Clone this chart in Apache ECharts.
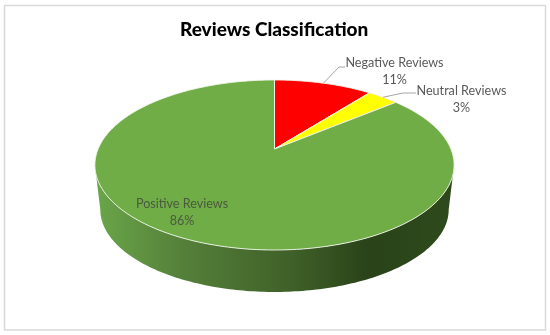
<!DOCTYPE html>
<html>
<head>
<meta charset="utf-8">
<style>html,body{margin:0;padding:0;background:#fff}#c{width:550px;height:335px}</style>
<script src="https://cdn.jsdelivr.net/npm/echarts@6/dist/echarts.min.js"></script>
</head>
<body>
<div id="c"></div>
<script>
const categories = ['Negative Reviews', 'Neutral Reviews', 'Positive Reviews'];
const reviewShare = [10.6, 3.4, 86];
const sliceColors = ['#ff0000', '#ffff00', '#70ad47'];

// Layout: projection of the disc, and label placement
const apexX = 274.5, apexY = 149, K = -0.188, A = 82, B = 176.4, DEPTH = 45, BOTTOM_SCALE = 0.97;
const labelPlaces = [
  { x: 394.5, y: 71.5, color: '#595959', knee: [339, 67], end: [345, 67] },
  { x: 461.5, y: 99, color: '#595959', knee: [403, 93], end: [416, 93] },
  { x: 182, y: 212, color: '#4a5a3e' }
];

const total = reviewShare.reduce((a, b) => a + b, 0);
const starts = [];
reviewShare.reduce((acc, v, i) => { starts[i] = acc; return acc + v; }, 0);

function project(theta, scale, dy) {
  // theta measured clockwise from the top of the disc
  const u = Math.sin(theta), v = -Math.cos(theta);
  const d = 1 + K * v;
  return [apexX + scale * B * u / d, apexY + dy + scale * A * v / d];
}
function arc(t0, t1, scale, dy) {
  const n = Math.max(2, Math.ceil(Math.abs(t1 - t0) * 60));
  const pts = [];
  for (let i = 0; i <= n; i++) pts.push(project(t0 + (t1 - t0) * i / n, scale, dy));
  return pts;
}
const toAngle = s => s / total * Math.PI * 2;

const wallEdge = Math.acos(K); // where the disc is widest, seen from the top of the disc
const wallRight = wallEdge, wallLeft = Math.PI * 2 - wallEdge;

const chart = echarts.init(document.getElementById('c'), null, { renderer: 'canvas' });
chart.setOption({
  animation: false,
  backgroundColor: '#ffffff',
  title: {
    text: 'Reviews Classification',
    left: 175, top: 15,
    textStyle: { fontFamily: 'Lato', fontWeight: 900, fontSize: 19, color: '#000000' }
  },
  graphic: [{
    type: 'rect', silent: true, z: -1,
    shape: { x: 4.5, y: 5.5, width: 541, height: 324.5 },
    style: { fill: '#ffffff', stroke: '#d9d9d9', lineWidth: 1.5 }
  }],
  series: [
    {
      type: 'custom', coordinateSystem: 'none', z: 1, silent: true,
      data: [[total]],
      renderItem: function () {
        const pts = arc(wallRight, wallLeft, BOTTOM_SCALE, DEPTH)
          .concat(arc(wallLeft, wallRight, 1, 0));
        return {
          type: 'polygon',
          shape: { points: pts },
          style: {
            fill: new echarts.graphic.LinearGradient(0, 0, 1, 0, [
              { offset: 0, color: '#6aa649' },
              { offset: 0.25, color: '#547f39' },
              { offset: 0.55, color: '#3f6028' },
              { offset: 0.76, color: '#2a4319' },
              { offset: 1, color: '#2e4a1c' }
            ])
          }
        };
      }
    },
    {
      type: 'custom', coordinateSystem: 'none', z: 2, silent: true,
      data: reviewShare.map((v, i) => [v, i]),
      renderItem: function (params, api) {
        const i = api.value(1), t0 = toAngle(starts[i]), t1 = toAngle(starts[i] + api.value(0));
        return {
          type: 'polygon',
          shape: { points: [[apexX, apexY]].concat(arc(t0, t1, 1, 0)) },
          style: { fill: sliceColors[i], stroke: '#f4f6ef', lineWidth: 0.9, lineJoin: 'round' }
        };
      }
    },
    {
      type: 'custom', coordinateSystem: 'none', z: 3, silent: true,
      data: reviewShare.map((v, i) => [v, i]),
      renderItem: function (params, api) {
        const v = api.value(0), i = api.value(1), p = labelPlaces[i];
        const children = [];
        if (p.knee) {
          children.push({
            type: 'polyline',
            shape: { points: [project(toAngle(starts[i] + v / 2), 1, 0), p.knee, p.end] },
            style: { fill: 'none', stroke: '#a6a6a6', lineWidth: 1 }
          });
        }
        children.push({
          type: 'text',
          style: {
            x: p.x, y: p.y,
            text: categories[i] + '\n' + Math.round(v) + '%',
            align: 'center', verticalAlign: 'middle',
            fontFamily: 'Lato', fontSize: 12.6, lineHeight: 17, fill: p.color
          }
        });
        return { type: 'group', children: children };
      }
    }
  ]
});
</script>
</body>
</html>
